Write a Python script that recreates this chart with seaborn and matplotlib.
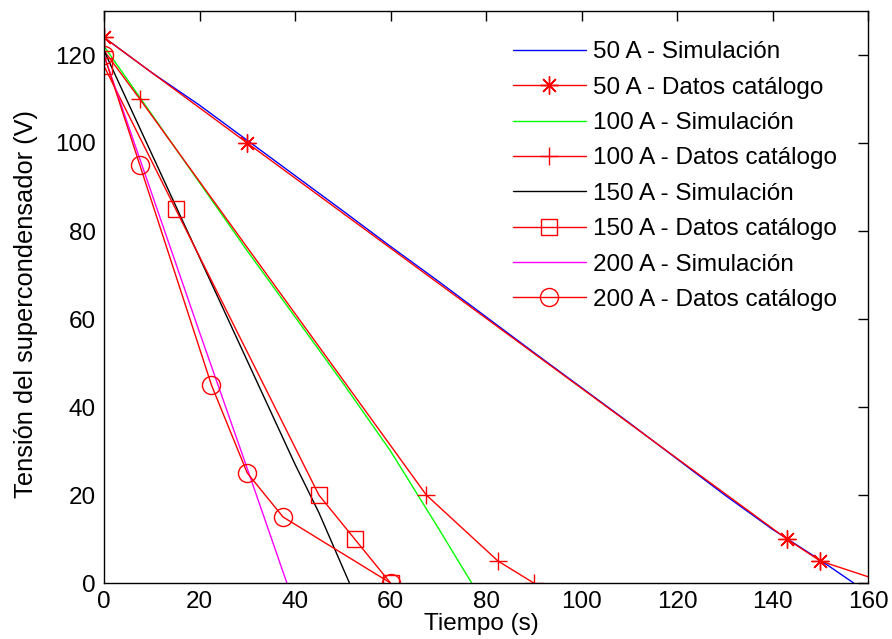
import matplotlib
matplotlib.use("Agg")
import matplotlib.pyplot as plt
import seaborn as sns
import numpy as np

# ---- data ----
t_sim50 = [0, 10, 20, 30, 40, 50, 60, 70, 80, 90, 100, 110, 120, 130, 140, 150, 157]
v_sim50 = [124, 116, 108.6, 100.6, 92.6, 84.6, 76.5, 68.6, 60.5, 52.4, 44.4, 36.4, 28.2, 20, 12.2, 5.2, 0]
t_cat50 = [0, 30, 143, 150, 164]
v_cat50 = [124, 100, 10, 5, 0]

t_sim100 = [0, 10, 20, 30, 40, 50, 60, 70, 77]
v_sim100 = [122, 106.5, 91, 75.5, 60.5, 45.5, 30, 12.5, 0]
t_cat100 = [0, 7.5, 67.5, 82.5, 90]
v_cat100 = [121, 110, 20, 5, 0]

t_sim150 = [0, 10, 20, 30, 40, 45, 51.4]
v_sim150 = [121, 97.5, 74, 50.5, 27, 16, 0]
t_cat150 = [0, 15, 45, 52.5, 60]
v_cat150 = [117.5, 85, 20, 10, 0]

t_sim200 = [0, 10, 20, 30, 38.3]
v_sim200 = [120, 88.5, 57, 26, 0]
t_cat200 = [0, 7.5, 22.5, 30, 37.5, 60]
v_cat200 = [120, 95, 45, 25, 15, 0]

labels = ["50 A - Simulación", "50 A - Datos catálogo",
          "100 A - Simulación", "100 A - Datos catálogo",
          "150 A - Simulación", "150 A - Datos catálogo",
          "200 A - Simulación", "200 A - Datos catálogo"]
x_ticks = [0, 20, 40, 60, 80, 100, 120, 140, 160]
y_ticks = [0, 20, 40, 60, 80, 100, 120]

sns.set_style("white")
plt.rcParams['font.family'] = ['Liberation Sans', 'DejaVu Sans']
plt.rcParams['text.color'] = 'black'
plt.rcParams['axes.labelcolor'] = 'black'
plt.rcParams['xtick.color'] = 'black'
plt.rcParams['ytick.color'] = 'black'

fig = plt.figure(figsize=(8.92, 6.39), dpi=100)
ax = fig.add_axes([104/892, 1 - 583/639, 764/892, 572/639])

series = [
    (t_sim50, v_sim50, "#0000ff", None, labels[0]),
    (t_cat50, v_cat50, "#ff0000", (8, 2, 0), labels[1]),
    (t_sim100, v_sim100, "#00ff00", None, labels[2]),
    (t_cat100, v_cat100, "#ff0000", "+", labels[3]),
    (t_sim150, v_sim150, "#000000", None, labels[4]),
    (t_cat150, v_cat150, "#ff0000", "s", labels[5]),
    (t_sim200, v_sim200, "#ff00ff", None, labels[6]),
    (t_cat200, v_cat200, "#ff0000", "o", labels[7]),
]

for x, y, c, m, lab in series:
    kw = dict(x=x, y=y, ax=ax, color=c, label=lab, estimator=None,
              sort=False, linewidth=1.0)
    if m is not None:
        kw.update(marker=m, markersize=13 if m != "s" else 12,
                  markerfacecolor="none", markeredgecolor=c,
                  markeredgewidth=1.0)
    sns.lineplot(**kw)

ax.set_xlim(0, 160)
ax.set_ylim(0, 130)
ax.set_xticks(x_ticks)
ax.set_yticks(y_ticks)
ax.tick_params(direction="in", length=7, width=1, top=True, right=True,
               labelsize=17.5, colors="black", pad=6)
for s in ax.spines.values():
    s.set_color("black")
    s.set_linewidth(1.0)

ax.set_xlabel("Tiempo (s)", fontsize=17.5, color="black")
ax.xaxis.label.set_verticalalignment("top")
ax.xaxis.set_label_coords((481 - 104) / 764, -(613 - 583) / 572)
ax.set_ylabel("Tensión del supercondensador (V)", fontsize=18.3, color="black")
ax.yaxis.label.set_verticalalignment("center")
ax.yaxis.set_label_coords((26 - 104) / 764, (583 - 304) / 572)

leg = ax.legend(loc="upper left", bbox_to_anchor=(0.535, 0.947),
                frameon=False, fontsize=17.5, handlelength=3.0,
                handletextpad=0.3, labelspacing=0.55,
                borderaxespad=0, borderpad=0, labelcolor="black")

fig.savefig("out.png", dpi=100)
